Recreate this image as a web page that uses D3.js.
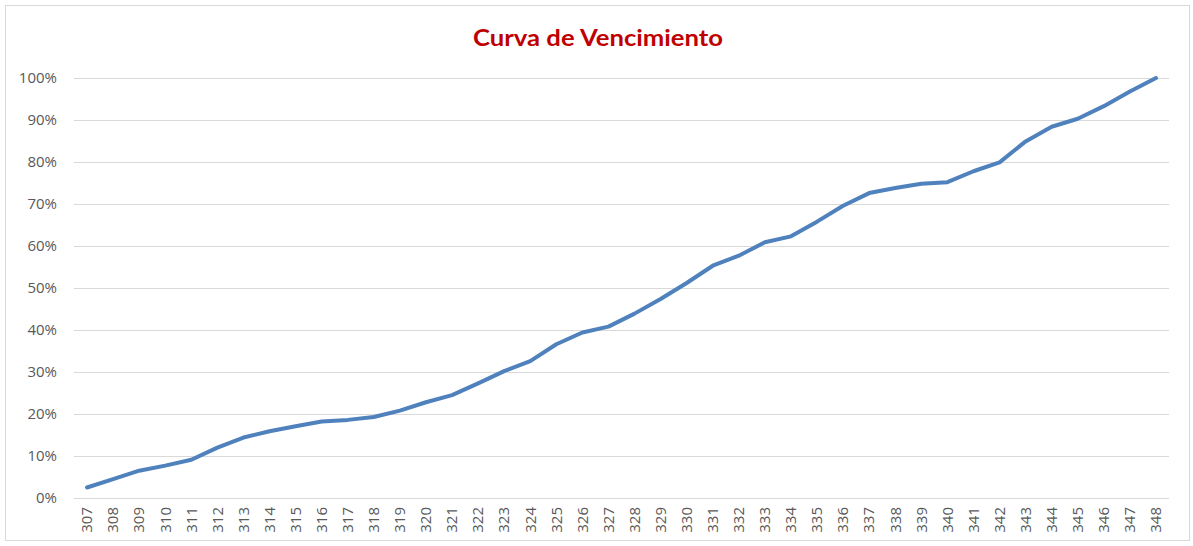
<!DOCTYPE html>
<html><head><meta charset="utf-8">
<script src="https://cdn.jsdelivr.net/npm/d3@7"></script>
<style>body{margin:0;background:#fff}svg{display:block}</style>
</head><body>
<svg id="chart" width="1193" height="546"></svg>
<script>
const title = "Curva de Vencimiento";
const categories = d3.range(307, 349).map(String);
const values = [2.5,4.5,6.5,7.7,9.1,12.0,14.4,15.9,17.1,18.2,18.6,19.3,20.8,22.8,24.5,27.3,30.2,32.6,36.6,39.4,40.8,43.9,47.4,51.2,55.3,57.7,60.9,62.3,65.8,69.6,72.6,73.8,74.8,75.2,77.8,79.9,84.9,88.4,90.3,93.3,96.8,100];
const yTicks = [0,10,20,30,40,50,60,70,80,90,100];

const svg = d3.select("#chart");
const W = 1193, H = 546;
const m = {left:74, right:24, top:78, bottom:48};

svg.append("rect").attr("x",5.5).attr("y",5.5).attr("width",1184).attr("height",535)
  .attr("fill","#fff").attr("stroke","#D9D9D9").attr("stroke-width",1);

const x = d3.scaleBand().domain(categories).range([m.left, W - m.right]);
const y = d3.scaleLinear().domain([0,100]).range([H - m.bottom, m.top]);

// gridlines
svg.append("g").selectAll("line").data(yTicks).join("line")
  .attr("x1", m.left).attr("x2", W - m.right)
  .attr("y1", d => Math.round(y(d)) + 0.5).attr("y2", d => Math.round(y(d)) + 0.5)
  .attr("stroke", "#D9D9D9").attr("stroke-width", 1);

// y axis labels
const yAxis = d3.axisLeft(y).tickValues(yTicks).tickFormat(d => d + "%").tickSize(0).tickPadding(17);
const gy = svg.append("g").attr("transform", `translate(${m.left},0)`).call(yAxis);
gy.select(".domain").remove();
gy.selectAll("text").attr("fill","#595959").style("font-family","'Open Sans', sans-serif").style("font-size","15px");

// x axis labels
const xAxis = d3.axisBottom(x).tickSize(0).tickPadding(0);
const gx = svg.append("g").attr("transform", `translate(0,${H - m.bottom})`).call(xAxis);
gx.select(".domain").remove();
gx.selectAll("text")
  .attr("fill","#595959").style("font-family","'Open Sans', sans-serif").style("font-size","15px")
  .attr("transform","rotate(-90)")
  .attr("text-anchor","end").attr("dy","0.35em").attr("x",-9).attr("y",0);

// line
const line = d3.line().x((d,i) => x(categories[i]) + x.bandwidth()/2).y(d => y(d));
svg.append("path").datum(values).attr("d", line)
  .attr("fill","none").attr("stroke","#4F81BD").attr("stroke-width",4)
  .attr("stroke-linejoin","round").attr("stroke-linecap","round");

// title
svg.append("text").attr("x", 598).attr("y", 46).attr("text-anchor","middle")
  .attr("fill","#C00000").style("font-family","Lato, 'Open Sans', sans-serif")
  .style("font-weight","bold").style("font-size","23px")
  .attr("textLength", 250).attr("lengthAdjust","spacingAndGlyphs").text(title);
</script>
</body></html>
